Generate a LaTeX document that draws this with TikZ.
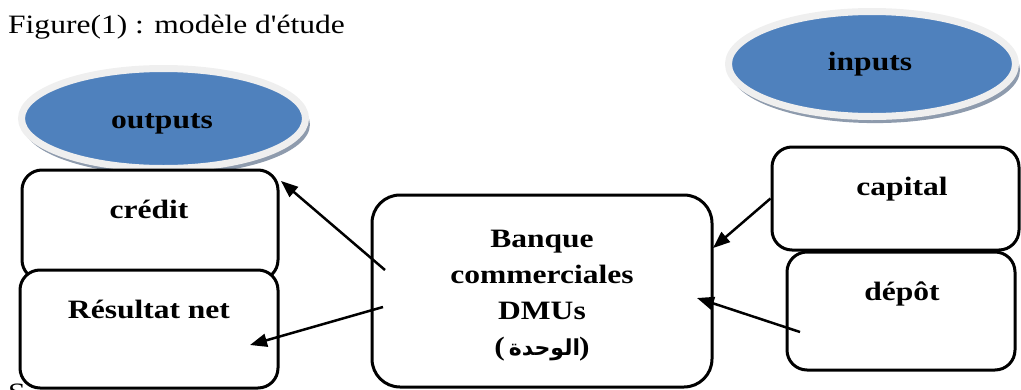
\documentclass[tikz,border=0pt]{standalone}
\usepackage{fontspec}
\setmainfont[FakeStretch=1.19]{Liberation Serif}
\newfontfamily\titlefont[FakeStretch=1.19]{Liberation Serif}
\newfontfamily\arabicfont[Script=Arabic]{DejaVu Sans}
\TeXXeTstate=1
\usetikzlibrary{shapes.geometric,arrows.meta,shadows}
\definecolor{ellblue}{HTML}{4F81BD}
\definecolor{ringgray}{HTML}{EFEFEF}
\definecolor{shadgray}{HTML}{8E9BAD}
\tikzset{
  ell/.style={ellipse, fill=ellblue, draw=ringgray, line width=7pt, inner sep=0pt,
    drop shadow={shadow xshift=3pt, shadow yshift=-6pt, shadow scale=1.01, fill=shadgray, opacity=1}},
  box/.style={draw=black, fill=white, line width=3pt, rounded corners=20pt, inner sep=0pt},
  lbl/.style={font=\fontsize{26.5}{36}\selectfont\bfseries, inner sep=0pt, anchor=base},
  plain/.style={font=\titlefont\fontsize{26.5}{30}\selectfont, inner sep=0pt, anchor=base west},
  arr/.style={line width=2.5pt, -{Triangle[length=17pt,width=13pt]}},
}
\begin{document}
\begin{tikzpicture}[x=1pt,y=-1pt]
\useasboundingbox (0,0) rectangle (1021,389);
\clip (0,0) rectangle (1021,389);
\node[plain] (title) at (8,33) {Figure(1) : modèle d'étude};
\node[plain] (s) at (8,401) {S};

\node[ell, minimum width=287, minimum height=105] (inputs) at (872,64) {};
\node[lbl] (inputsT) at (870,70) {inputs};
\node[ell, minimum width=284, minimum height=100] (outputs) at (163.5,118.5) {};
\node[lbl] (outputsT) at (162,128) {outputs};

\node[box, minimum width=256, minimum height=110] (credit) at (150,225) {};
\node[box, minimum width=258, minimum height=118] (resultat) at (149,329) {};
\node[box, minimum width=340, minimum height=192, rounded corners=28pt] (bank) at (542,291) {};
\node[box, minimum width=247, minimum height=103] (capital) at (895.5,198.5) {};
\node[box, minimum width=228, minimum height=118] (depot) at (901,311) {};

\node[lbl] (creditT) at (149,218) {crédit};
\node[lbl] (resultatT) at (149,318) {Résultat net};
\node[lbl] (capitalT) at (902,195) {capital};
\node[lbl] (depotT) at (902,300) {dépôt};
\node[lbl, align=center, anchor=north] (bankT) at (542,229.5)
  {Banque\\commerciales\\DMUs\\(\kern4pt{\arabicfont\fontsize{22}{36}\selectfont\beginR الوحدة\endR}\kern-1pt)};

\coordinate (s1) at (385,270); \coordinate (e1) at (281,181);
\coordinate (s2) at (383,307); \coordinate (e2) at (250,345);
\coordinate (e3) at (713,248);
\coordinate (s4) at (800,332); \coordinate (e4) at (697,298);
\draw[arr] (s1) -- (e1);
\draw[arr] (s2) -- (e2);
\draw[arr] (capital.west) -- (e3);
\draw[arr] (s4) -- (e4);
\end{tikzpicture}
\end{document}
